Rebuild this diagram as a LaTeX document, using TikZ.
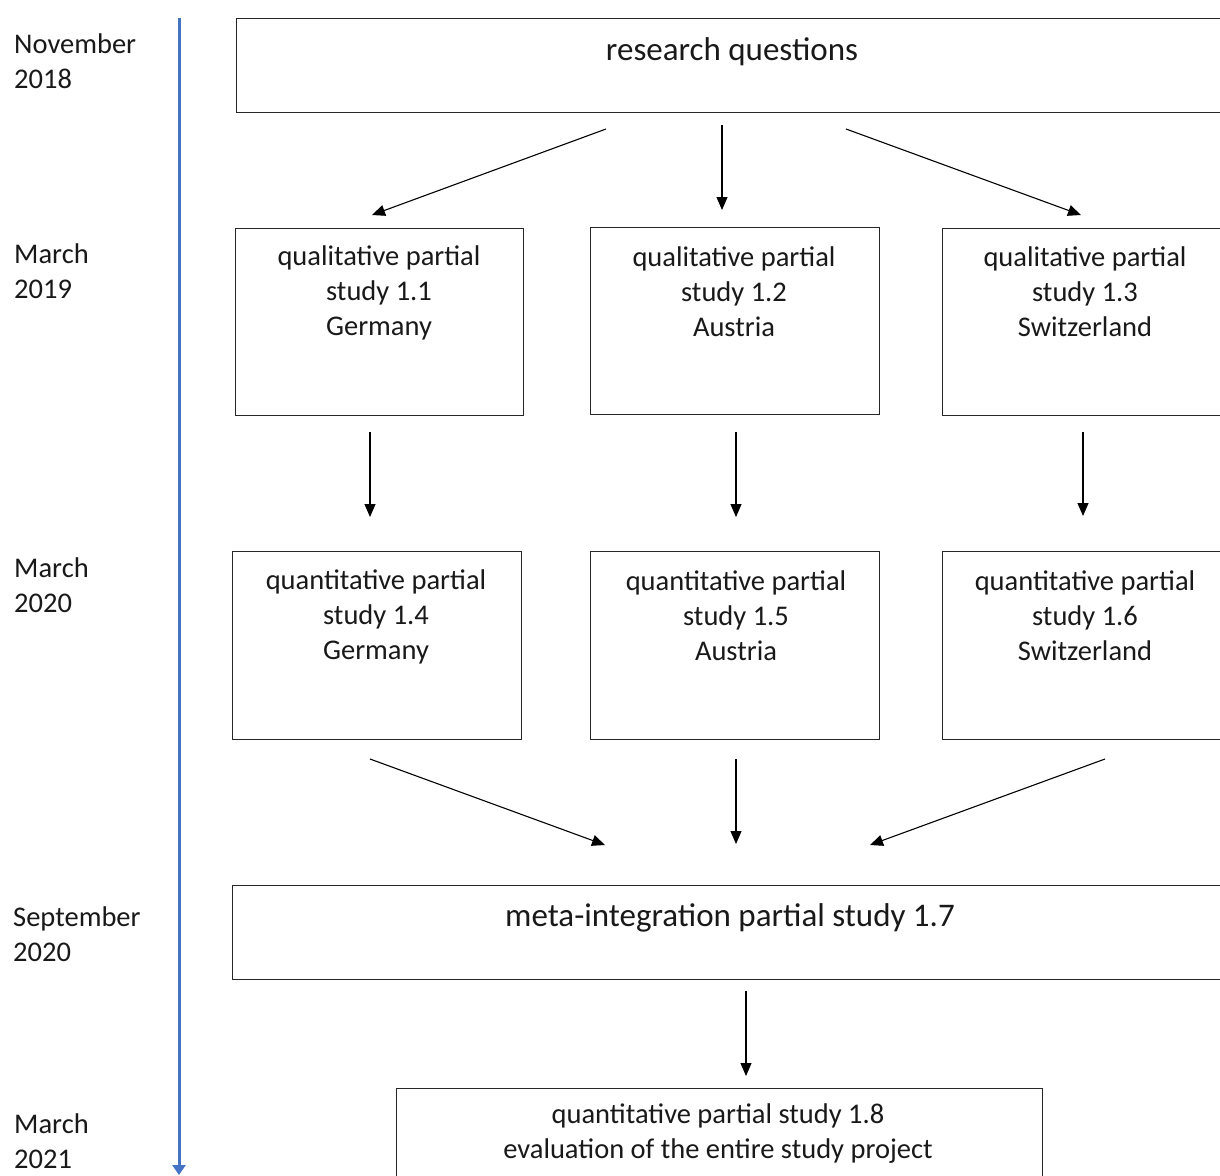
\documentclass[tikz,border=0pt]{standalone}
\usepackage{fontspec}
\setmainfont{Carlito}
\usetikzlibrary{arrows.meta}
\definecolor{tlblue}{HTML}{4472C4}
\tikzset{
  box/.style={draw=black!85, line width=1.1pt, rectangle, inner sep=0pt, anchor=north west},
  txt/.style={align=center, font=\fontsize{28.5}{35}\selectfont, inner sep=0pt, text=black!90},
  bigtxt/.style={align=center, font=\fontsize{33}{40}\selectfont, inner sep=0pt, text=black!90},
  date/.style={align=left, font=\fontsize{28.5}{34.5}\selectfont, inner sep=0pt, anchor=west, text=black!90},
  conn/.style={line width=1.1pt, -{Triangle[length=13pt,width=11pt]}},
}
\begin{document}
\begin{tikzpicture}[x=1pt,y=-1pt]
\useasboundingbox (0,0) rectangle (1220,1175);
\clip (0,0) rectangle (1220,1175);
\fill[white] (0,0) rectangle (1220,1175);

% timeline
\coordinate (tl0) at (179,18);
\coordinate (tl1) at (179,1175);
\draw[tlblue, line width=3pt, -{Triangle[length=10pt,width=13pt]}] (tl0) -- (tl1);

% dates
\node[date] (d1) at (14,61) {November\\2018};
\node[date] (d2) at (14,271) {March\\2019};
\node[date] (d3) at (14,585) {March\\2020};
\node[date] (d4) at (13,934) {September\\2020};
\node[date] (d5) at (14,1141) {March\\2021};

% boxes
\node[box, minimum width=1100pt, minimum height=94pt] (rq) at (236,18) {};
\node[bigtxt] (rqt) at (732,52) {research questions};

\node[box, minimum width=288pt, minimum height=187pt] (q1) at (235,228) {};
\node[box, minimum width=289pt, minimum height=187pt] (q2) at (590,227) {};
\node[box, minimum width=400pt, minimum height=187pt] (q3) at (942,228) {};
\node[txt] (q1t) at (379,293) {qualitative partial\\study 1.1\\Germany};
\node[txt] (q2t) at (734,292) {qualitative partial\\study 1.2\\Austria};
\node[txt] (q3t) at (1085,292) {qualitative partial\\study 1.3\\Switzerland};

\node[box, minimum width=289pt, minimum height=188pt] (p4) at (232,551) {};
\node[box, minimum width=289pt, minimum height=188pt] (p5) at (590,551) {};
\node[box, minimum width=400pt, minimum height=188pt] (p6) at (942,551) {};
\node[txt] (p4t) at (376,617) {quantitative partial\\study 1.4\\Germany};
\node[txt] (p5t) at (736,616) {quantitative partial\\study 1.5\\Austria};
\node[txt] (p6t) at (1085,616) {quantitative partial\\study 1.6\\Switzerland};

\node[box, minimum width=1100pt, minimum height=94pt] (meta) at (232,885) {};
\node[bigtxt] (metat) at (730,918) {meta-integration partial study 1.7};

\node[box, minimum width=646pt, minimum height=200pt] (fin) at (396,1088) {};
\node[txt] (fint) at (718,1134) {quantitative partial study 1.8\\evaluation of the entire study project};

% connector endpoints
\coordinate (a1s) at (606,129); \coordinate (a1e) at (372,215);
\coordinate (a2s) at (722,125); \coordinate (a2e) at (722,210);
\coordinate (a3s) at (846,129); \coordinate (a3e) at (1081,215);
\coordinate (b1s) at (370,432); \coordinate (b1e) at (370,517);
\coordinate (b2s) at (736,432); \coordinate (b2e) at (736,517);
\coordinate (b3s) at (1083,432); \coordinate (b3e) at (1083,516);
\coordinate (c1s) at (370,759); \coordinate (c1e) at (605,845);
\coordinate (c2s) at (736,759); \coordinate (c2e) at (736,844);
\coordinate (c3s) at (1105,759); \coordinate (c3e) at (870,845);
\coordinate (ds) at (746,991); \coordinate (de) at (746,1076);

\draw[conn] (a1s) -- (a1e);
\draw[conn] (a2s) -- (a2e);
\draw[conn] (a3s) -- (a3e);
\draw[conn] (b1s) -- (b1e);
\draw[conn] (b2s) -- (b2e);
\draw[conn] (b3s) -- (b3e);
\draw[conn] (c1s) -- (c1e);
\draw[conn] (c2s) -- (c2e);
\draw[conn] (c3s) -- (c3e);
\draw[conn] (ds) -- (de);
\end{tikzpicture}
\end{document}
